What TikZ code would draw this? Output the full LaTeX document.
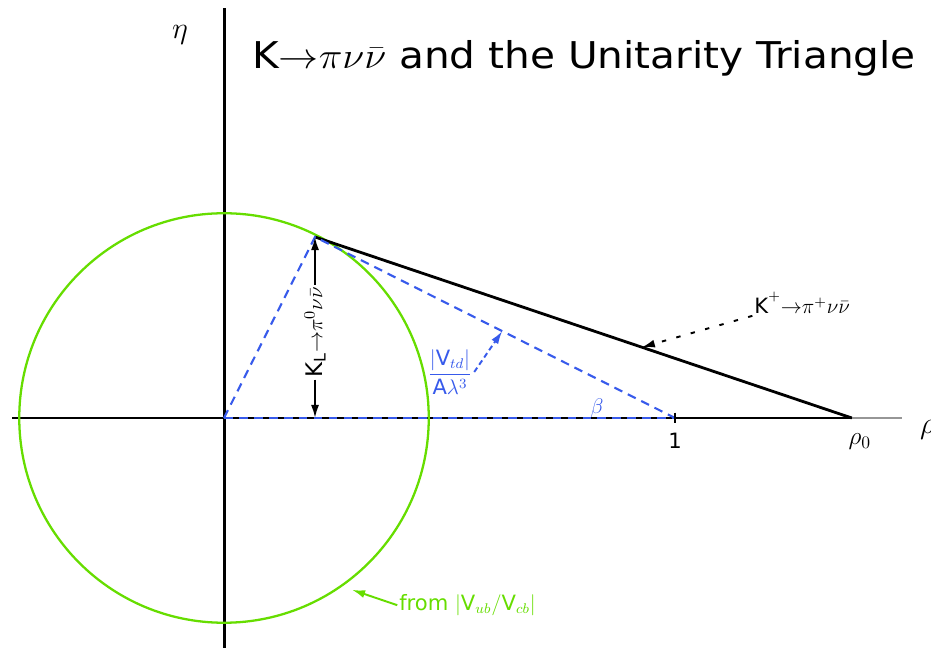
\documentclass[tikz,border=0pt]{standalone}
\usepackage{amsmath}
\usepackage{graphicx}
\usepackage{fontspec}
\setmainfont{DejaVu Sans}
\usepackage{tikz}
\usetikzlibrary{arrows.meta,positioning,calc}
\definecolor{limegreen}{RGB}{102,221,0}
\definecolor{dashblue}{RGB}{55,90,235}
\definecolor{axisgrey}{RGB}{150,150,150}
\tikzset{
  base/.style={font=\fontsize{12}{14}\selectfont, inner sep=1pt, text=black},
  axis/.style={line width=1.1pt, draw=black},
  yaxis/.style={line width=1.7pt, draw=black},
  side/.style={line width=1.6pt, draw=black},
  blued/.style={line width=1.2pt, draw=dashblue, dash pattern=on 5pt off 3.5pt},
  circ/.style={line width=1.3pt, draw=limegreen},
  arr/.style={-{Latex[length=2.6mm,width=1.6mm]}, line width=1.1pt},
  arrd/.style={arr, dash pattern=on 2.5pt off 6pt},
  bluelbl/.style={base, text=dashblue},
  greenlbl/.style={base, text=limegreen},
}

\begin{document}
\begin{tikzpicture}[x=9.02cm,y=9.02cm]
  \useasboundingbox (-0.4967,-0.5078) rectangle (1.5676,0.9268);
  % corners of the triangle
  \coordinate (O) at (0,0);
  \coordinate (A) at (0.2018,0.4013);
  \coordinate (one) at (1,0);
  \coordinate (rhoz) at (1.392,0);
  % axes ends
  \coordinate (xl) at (-0.47,0);
  \coordinate (xr) at (1.503,0);
  \coordinate (yt) at (0,0.909);
  \coordinate (yb) at (0,-0.51);
  % axes
  \draw[axis] (xl) -- (rhoz);
  \draw[axis,draw=axisgrey] (rhoz) -- (xr);
  \draw[yaxis] (yt) -- (yb);
  % circle from |Vub/Vcb|
  \draw[circ] (O) circle (0.454);
  % triangle
  \draw[side] (A) -- (rhoz);
  \draw[blued] (O) -- (A) -- (one);
  \draw[blued] (O) -- (one);
  \draw[line width=1pt] ($(one)+(0,0.012)$) -- ($(one)+(0,-0.012)$);
  % labels
  \node[base,font=\fontsize{16}{18}\selectfont] (etalbl) at (-0.0976,0.849) {$\eta$};
  \node[base,anchor=west,font=\fontsize{21}{24}\selectfont] (title) at (0.0576,0.798) {\scalebox{1.1}[1]{$\mathrm{K}{\rightarrow}\pi\nu\bar\nu$ and the Unitarity Triangle}};
  \node[base,rotate=90,font=\fontsize{13}{15}\selectfont] (KLlbl) at (0.2018,0.19) {$\mathrm{K_L}{\rightarrow}\pi^0\nu\bar\nu$};
  \draw[arr] (KLlbl.east) -- (A);
  \draw[arr] (KLlbl.west) -- (A |- O);
  \node[bluelbl] (Vtdlbl) at (0.501,0.102) {$\dfrac{|\mathrm{V}_{td}|}{\mathrm{A}\lambda^3}$};
  \coordinate (Vtdtip) at ($(A)!0.52!(one)$);
  \draw[arr,draw=dashblue,dash pattern=on 3pt off 2pt] (Vtdlbl.east) -- (Vtdtip);
  \node[bluelbl,font=\fontsize{13}{15}\selectfont] (betalbl) at (0.827,0.022) {$\beta$};
  \node[base] (Kplbl) at (1.282,0.255) {$\mathrm{K}^+{\rightarrow}\pi^+\nu\bar\nu$};
  \coordinate (Kptip) at ($(A)!0.609!(rhoz)$);
  \draw[arrd] (Kplbl.south west) -- (Kptip);
  \node[base] (onelbl) at (1,-0.051) {1};
  \node[base,font=\fontsize{14}{16}\selectfont] (rhozlbl) at (1.41,-0.052) {$\rho_0$};
  \node[base,anchor=west,font=\fontsize{16}{18}\selectfont] (rholbl) at (1.539,-0.027) {$\rho$};
  \coordinate (circtip) at (0.284,-0.381);
  \node[greenlbl,anchor=west] (fromlbl) at (0.384,-0.415) {from $|\mathrm{V}_{ub}/\mathrm{V}_{cb}|$};
  \draw[arr,draw=limegreen] (fromlbl.west) -- (circtip);
\end{tikzpicture}
\end{document}
